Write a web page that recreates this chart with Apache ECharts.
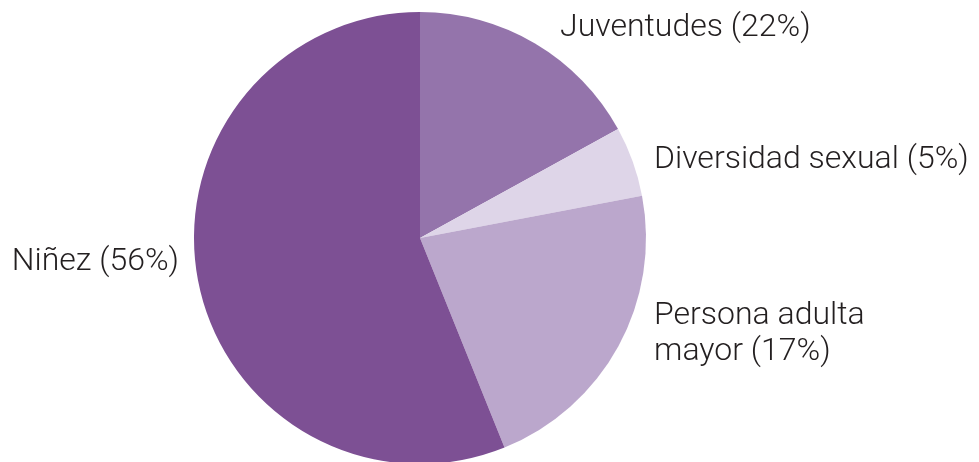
<!DOCTYPE html>
<html>
<head>
<meta charset="utf-8">
<script src="https://cdn.jsdelivr.net/npm/echarts@6/dist/echarts.min.js"></script>
<style>
html,body{margin:0;padding:0;background:#fff;}
#chart{width:979px;height:462px;}
</style>
</head>
<body>
<div id="chart"></div>
<script>
const categories = ["Juventudes (22%)", "Diversidad sexual (5%)", "Persona adulta\nmayor (17%)", "Niñez (56%)"];
const values = [17.0, 5.0, 21.9, 56.1];
const colors = ["#9474AB", "#DED5E8", "#BBA7CC", "#7D5094"];

const labelPos = [
  {x: 560, y: 28, align: 'left'},
  {x: 654, y: 160, align: 'left'},
  {x: 654, y: 334, align: 'left'},
  {x: 179, y: 262, align: 'right'}
];

const chart = echarts.init(document.getElementById('chart'), null, {renderer: 'canvas'});
chart.setOption({
  animation: false,
  backgroundColor: '#ffffff',
  series: [{
    type: 'pie',
    center: [420, 238],
    radius: 226,
    startAngle: 90,
    clockwise: true,
    silent: true,
    data: categories.map((c, i) => ({name: c, value: values[i], itemStyle: {color: colors[i]}})),
    itemStyle: {borderWidth: 0},
    label: {
      show: true,
      formatter: '{b}',
      color: '#231F20',
      fontFamily: 'Roboto',
      fontWeight: 300,
      fontSize: 32,
      lineHeight: 36,
      overflow: 'none',
      width: 400
    },
    labelLine: {show: false},
    labelLayout: function (p) {
      const lp = labelPos[p.dataIndex];
      return {x: lp.x, y: lp.y, align: lp.align, verticalAlign: 'middle', hideOverlap: false, moveOverlap: false};
    }
  }]
});
</script>
</body>
</html>
